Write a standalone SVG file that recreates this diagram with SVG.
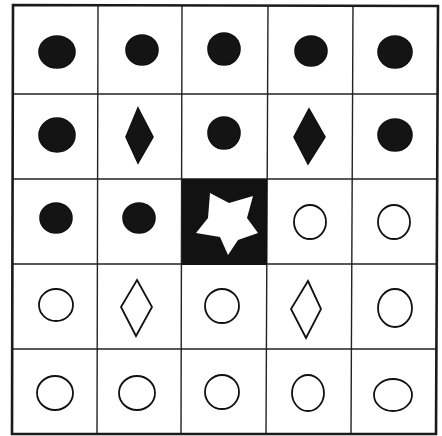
<svg xmlns="http://www.w3.org/2000/svg" width="442" height="436" viewBox="0 0 442 436">
<style>
.grid{stroke:#222;stroke-width:1.4;fill:none}
.border{stroke:#1a1a1a;stroke-width:2.6;fill:none}
.f{fill:#141414;stroke:#111;stroke-width:1.6}
.o{fill:none;stroke:#111;stroke-width:1.8}
</style>
<rect width="442" height="436" fill="#fff"/>
<g id="grid">
<path class="grid" d="M98,5 L97,434 M182,5 L181,434 M268,5 L266,434 M353,5 L351,434 M12,94 L437,94 M12,179 L437,179 M12,264 L437,264 M12,349 L437,349"/>
<path class="border" d="M13,5 L438,6 L436,434 L12,434 Z"/>
</g>
<g id="r1c1"><ellipse class="f" cx="57" cy="52" rx="18" ry="16"/></g>
<g id="r1c2"><ellipse class="f" cx="142" cy="50" rx="16" ry="15"/></g>
<g id="r1c3"><ellipse class="f" cx="224" cy="49" rx="16" ry="16"/></g>
<g id="r1c4"><ellipse class="f" cx="311" cy="51" rx="16" ry="15"/></g>
<g id="r1c5"><ellipse class="f" cx="395" cy="52" rx="17" ry="16"/></g>
<g id="r2c1"><ellipse class="f" cx="57" cy="135" rx="18" ry="17"/></g>
<g id="r2c2"><polygon class="f" points="138,108 153,137 138,163 126,137"/></g>
<g id="r2c3"><ellipse class="f" cx="224" cy="133" rx="16" ry="16"/></g>
<g id="r2c4"><polygon class="f" points="309,109 325,137 308,164 294,137"/></g>
<g id="r2c5"><ellipse class="f" cx="395" cy="135" rx="17" ry="16"/></g>
<g id="r3c1"><ellipse class="f" cx="56" cy="218" rx="16" ry="15"/></g>
<g id="r3c2"><ellipse class="f" cx="139" cy="218" rx="16" ry="15"/></g>
<g id="r3c3">
<rect x="182" y="179" width="85" height="86" fill="#121212"/>
<polygon fill="#fff" points="210,193 229,203 253,196 247,218 258,233 238,240 228,255 220,237 196,233 208,218"/>
</g>
<g id="r3c4"><ellipse class="o" cx="310" cy="222" rx="16" ry="17"/></g>
<g id="r3c5"><ellipse class="o" cx="394" cy="222" rx="16" ry="17"/></g>
<g id="r4c1"><ellipse class="o" cx="56" cy="305" rx="17" ry="16"/></g>
<g id="r4c2"><polygon class="o" points="137,280 152,307 136,336 121,307"/></g>
<g id="r4c3"><ellipse class="o" cx="222" cy="306" rx="17" ry="17"/></g>
<g id="r4c4"><polygon class="o" points="308,281 321,309 306,338 291,309"/></g>
<g id="r4c5"><ellipse class="o" cx="395" cy="308" rx="17" ry="19"/></g>
<g id="r5c1"><ellipse class="o" cx="55" cy="393" rx="18" ry="17"/></g>
<g id="r5c2"><ellipse class="o" cx="137" cy="393" rx="18" ry="17"/></g>
<g id="r5c3"><ellipse class="o" cx="222" cy="392" rx="17" ry="17"/></g>
<g id="r5c4"><ellipse class="o" cx="308" cy="393" rx="16" ry="18"/></g>
<g id="r5c5"><ellipse class="o" cx="393" cy="395" rx="19" ry="16"/></g>
</svg>
